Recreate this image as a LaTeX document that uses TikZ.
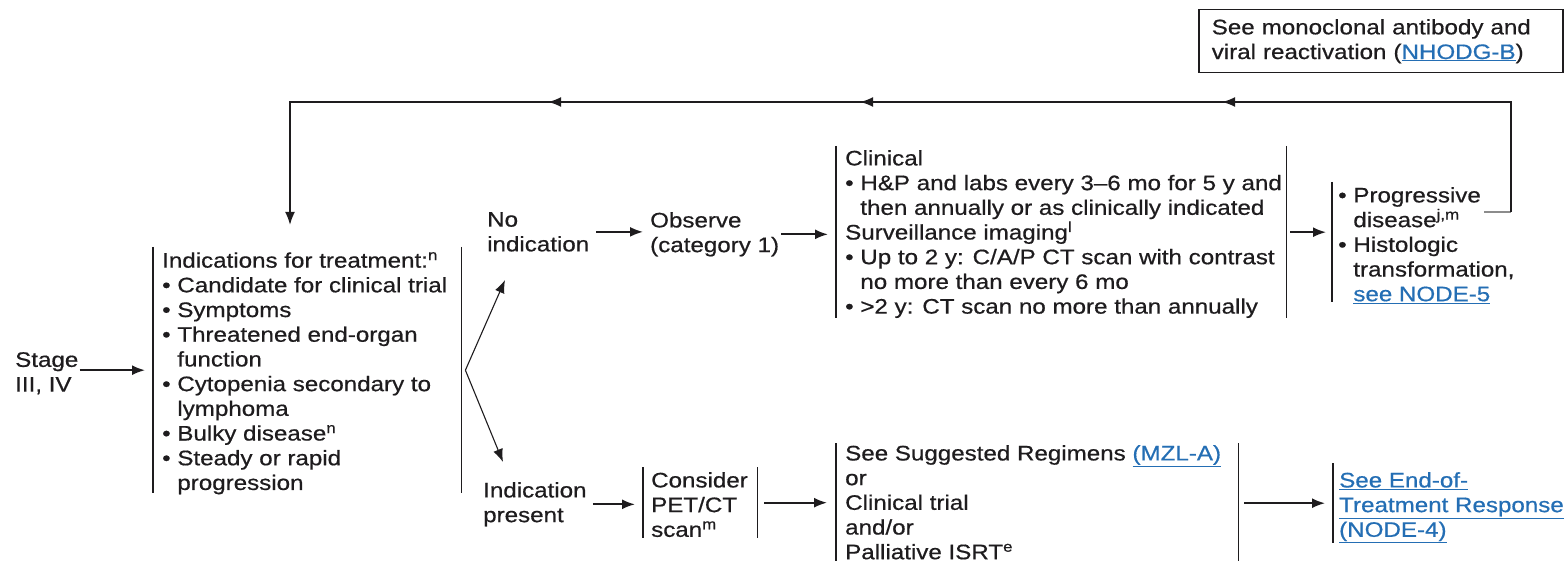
\documentclass[tikz,border=0pt]{standalone}
\usepackage{fontspec}
\setmainfont{Liberation Sans}[FakeStretch=1.15,FakeBold=0.6]
\usetikzlibrary{arrows.meta,decorations.markings}

\definecolor{ink}{RGB}{30,28,30}
\definecolor{linkblue}{RGB}{36,110,180}
\definecolor{loopgray}{RGB}{140,140,140}

\newcommand\lnk[1]{\textcolor{linkblue}{\underline{#1}}}
\newcommand\bl{\textbullet\ }
\newcommand\contline{\hphantom{\textbullet\ }}

\begin{document}
\begin{tikzpicture}[x=1pt,y=-1pt,
  >={Latex[length=13pt,width=10pt]},
  txt/.style={anchor=north west, inner sep=0pt, align=left, text=ink,
              font=\fontsize{21}{24.7}\selectfont},
  area/.style={anchor=north west, inner sep=0pt, minimum width=#1},
  bar/.style={draw=ink, line width=1.6pt},
  arr/.style={draw=ink, line width=1.8pt, ->},
  thinarr/.style={draw=ink, line width=1.1pt, ->},
  fb/.style={draw=ink, line width=1.8pt},
]
\useasboundingbox (0,0) rectangle (1566,561);

% ---- boxed note, top right
\node[txt, draw=ink, line width=1.5pt, inner xsep=13pt, inner ysep=0pt,
      text width=338pt, minimum height=63pt] (note) at (1198,9)
  {See monoclonal antibody and\\viral reactivation (\lnk{NHODG-B})};

% ---- entry
\node[txt] (stage) at (15,352) {Stage\\III, IV};

% ---- indications for treatment
\node[area=308pt, minimum height=246pt] (ind) at (153,247) {};
\draw[bar] (ind.north west) -- (ind.south west) (ind.north east) -- (ind.south east);
\node[txt] (indt) at (162,252)
  {Indications for treatment:\textsuperscript{n}\\
   \bl Candidate for clinical trial\\
   \bl Symptoms\\
   \bl Threatened end-organ\\
   \contline function\\
   \bl Cytopenia secondary to\\
   \contline lymphoma\\
   \bl Bulky disease\textsuperscript{n}\\
   \bl Steady or rapid\\
   \contline progression};

% ---- upper branch
\node[txt] (noind) at (487,212) {No\\indication};
\node[txt] (obs) at (650,212) {Observe\\(category 1)};

\node[area=450pt, minimum height=172pt] (clin) at (836,146) {};
\draw[bar] (clin.north west) -- (clin.south west) (clin.north east) -- (clin.south east);
\node[txt] (clint) at (845,150)
  {Clinical\\
   \bl H\&P and labs every 3–6 mo for 5 y and\\
   \contline then annually or as clinically indicated\\
   Surveillance imaging\textsuperscript{l}\\
   \bl Up to 2 y: C/A/P CT scan with contrast\\
   \contline no more than every 6 mo\\
   \bl >2 y: CT scan no more than annually};

\node[area=152pt, minimum height=120pt] (prog) at (1332,182) {};
\draw[bar] (prog.north west) -- (prog.south west);
\node[txt] (progt) at (1338,187)
  {\bl Progressive\\
   \contline disease\textsuperscript{j,m}\\
   \bl Histologic\\
   \contline transformation,\\
   \contline \lnk{see NODE-5}};

% ---- lower branch
\node[txt] (pres) at (483,482) {Indication\\present};

\node[area=114pt, minimum height=71pt] (cons) at (643,467) {};
\draw[bar] (cons.north west) -- (cons.south west) (cons.north east) -- (cons.south east);
\node[txt] (const) at (651,472) {Consider\\PET/CT\\scan\textsuperscript{m}};

\node[area=402pt, minimum height=120pt] (regs) at (836,443) {};
\draw[bar] (regs.north west) -- (regs.south west) (regs.north east) -- (regs.south east);
\node[txt] (regst) at (845,445)
  {See Suggested Regimens \lnk{(MZL-A)}\\
   or\\
   Clinical trial\\
   and/or\\
   Palliative ISRT\textsuperscript{e}};

\node[area=10pt, minimum height=80pt] (eot) at (1333,463) {};
\draw[bar] (eot.north west) -- (eot.south west);
\node[txt] (eott) at (1339,472)
  {\lnk{See End-of-}\\\lnk{Treatment Response}\\\lnk{(NODE-4)}};

% ---- connectors
\draw[arr] ([xshift=1pt]ind.west -| stage.east) -- ([xshift=-8pt]ind.west);

\coordinate (fork) at ([xshift=4pt]ind.east);
\coordinate (upend) at (505,280);
\coordinate (downend) at (503,462);
\draw[thinarr] (fork) -- (upend);
\draw[thinarr] (fork) -- (downend);

\draw[arr] ([xshift=7pt]noind.east) -- ([xshift=-7pt]noind.east -| obs.west);
\draw[arr] ([xshift=2pt]obs.east) -- ([xshift=-8pt]obs.east -| clin.west);
\draw[arr] ([xshift=4pt]clin.east) -- ([xshift=-6pt]clin.east -| prog.west);

\draw[arr] ([xshift=6pt]pres.east) -- ([xshift=-8pt]pres.east -| cons.west);
\draw[arr] ([xshift=7pt]cons.east) -- ([xshift=-9pt]cons.east -| regs.west);
\draw[arr] ([xshift=6pt]regs.east) -- ([xshift=-8pt]regs.east -| eot.west);

% ---- loop back from progression to the indications
\coordinate (pd) at (1484,212);
\coordinate (c1) at (1511,212);
\coordinate (c2) at (1511,102);
\coordinate (c3) at (290,102);
\coordinate (fbend) at (290,225);
\draw[draw=loopgray, line width=1.8pt] (pd) -- (c1);
\draw[fb, ->, postaction=decorate, decoration={markings,
      mark=at position 399pt with {\arrow{>}},
      mark=at position 761pt with {\arrow{>}},
      mark=at position 1073pt with {\arrow{>}}}]
  (c1) -- (c2) -- (c3) -- (fbend);
\end{tikzpicture}
\end{document}
